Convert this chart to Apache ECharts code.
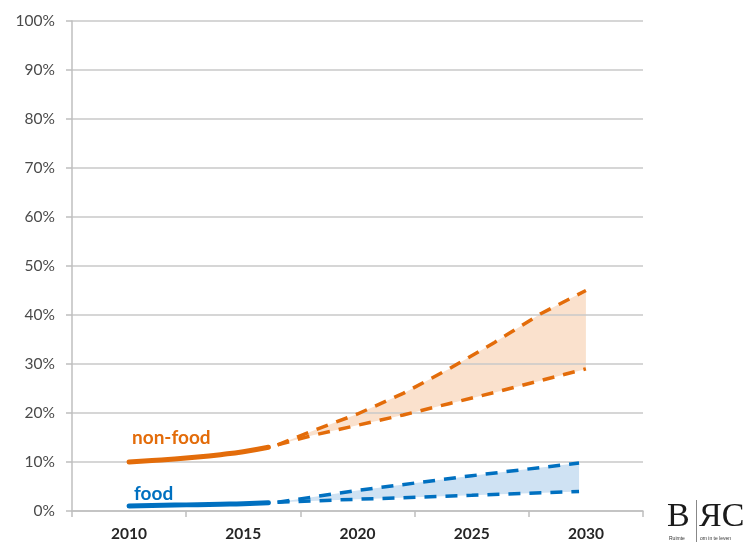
<!DOCTYPE html>
<html><head><meta charset="utf-8">
<script src="https://cdn.jsdelivr.net/npm/echarts@6/dist/echarts.min.js"></script>
<style>html,body{margin:0;padding:0;background:#fff}#c{width:753px;height:543px}</style>
</head><body><div id="c"></div>
<script>
var xCategories = ['2010', '2015', '2020', '2025', '2030'];
var yTicks = [0, 10, 20, 30, 40, 50, 60, 70, 80, 90, 100];

var histYears = [2010, 2011, 2012, 2013, 2014, 2015, 2016.1];
var nonFoodHist = [10, 10.3, 10.6, 11, 11.5, 12.1, 13];
var foodHist = [1.0, 1.1, 1.2, 1.3, 1.4, 1.5, 1.7];

var nfYears = [2016.5, 2018, 2020, 2022, 2024, 2026, 2028, 2030];
var nfHigh = [13.5, 16.3, 19.8, 24.0, 29.0, 34.4, 40.2, 45];
var nfLow = [13.5, 15.4, 17.5, 19.6, 21.9, 24.2, 26.6, 29];

var fYears = [2016.5, 2020, 2025, 2029.7];
var fHigh = [1.8, 4.2, 7.2, 9.8];
var fLow = [1.8, 2.4, 3.2, 4.0];

var ORANGE = '#e36c0a', BLUE = '#0070c0';
function pts(xs, ys) { return xs.map(function (x, i) { return [x, ys[i]]; }); }

function band(xs, hi, lo, color) {
  return {
    type: 'custom', xAxisIndex: 1, silent: true, z: -1,
    data: xs.map(function (x, i) { return [x, hi[i], lo[i]]; }),
    renderItem: function (params, api) {
      if (params.dataIndex !== 0) return null;
      var top = [], bot = [];
      for (var i = 0; i < xs.length; i++) {
        top.push(api.coord([xs[i], hi[i]]));
        bot.push(api.coord([xs[i], lo[i]]));
      }
      return { type: 'polygon', shape: { points: top.concat(bot.reverse()) }, style: { fill: color } };
    }
  };
}

var chart = echarts.init(document.getElementById('c'), null, { renderer: 'canvas' });
var dash = { type: [12, 9], width: 3.5 };
chart.setOption({
  animation: false,
  grid: { left: 72, right: 110, top: 21, bottom: 32 },
  xAxis: [{
    type: 'category', data: xCategories, boundaryGap: true,
    axisLine: { lineStyle: { color: '#bfbfbf', width: 1.5 } },
    axisTick: { show: true, length: 6, lineStyle: { color: '#bfbfbf', width: 1.5 } },
    axisLabel: { margin: 15, color: '#262626', fontWeight: 'bold', fontSize: 15.5, fontFamily: 'Lato' },
    splitLine: { show: false }
  }, {
    type: 'value', min: 2007.5, max: 2032.5, show: false
  }],
  yAxis: {
    type: 'value', min: 0, max: 100, interval: 10,
    axisLine: { show: true, lineStyle: { color: '#bfbfbf', width: 1.5 } },
    axisTick: { show: true, length: 6, lineStyle: { color: '#bfbfbf', width: 1.5 } },
    axisLabel: { margin: 17, color: '#4a4a4a', fontSize: 15.5, fontFamily: 'Lato', formatter: '{value}%' },
    splitLine: { lineStyle: { color: '#c8c8c8', width: 1.5 } }
  },
  series: [
    band(nfYears, nfHigh, nfLow, '#fae1cd'),
    band(fYears, fHigh, fLow, '#cfe2f3'),
    { type: 'line', xAxisIndex: 1, z: 3, data: pts(nfYears, nfHigh), symbol: 'none', lineStyle: Object.assign({ color: ORANGE }, dash) },
    { type: 'line', xAxisIndex: 1, z: 3, data: pts(nfYears, nfLow), symbol: 'none', lineStyle: Object.assign({ color: ORANGE }, dash) },
    { type: 'line', xAxisIndex: 1, z: 3, data: pts(fYears, fHigh), symbol: 'none', lineStyle: Object.assign({ color: BLUE }, dash) },
    { type: 'line', xAxisIndex: 1, z: 3, data: pts(fYears, fLow), symbol: 'none', lineStyle: Object.assign({ color: BLUE }, dash) },
    { type: 'line', xAxisIndex: 1, z: 3, data: pts(histYears, nonFoodHist), symbol: 'none', smooth: true, lineStyle: { color: ORANGE, width: 5, cap: 'round' } },
    { type: 'line', xAxisIndex: 1, z: 3, data: pts(histYears, foodHist), symbol: 'none', smooth: true, lineStyle: { color: BLUE, width: 5, cap: 'round' } }
  ],
  graphic: [
    { type: 'text', x: 132, y: 438, style: { text: 'non-food', fill: ORANGE, font: 'bold 19px Lato', textVerticalAlign: 'middle' } },
    { type: 'text', x: 134, y: 494, style: { text: 'food', fill: BLUE, font: 'bold 19px Lato', textVerticalAlign: 'middle' } },
    { type: 'text', left: 667, top: 500, style: { text: 'B', fill: '#1a1a1a', font: '34px "Liberation Serif"' } },
    { type: 'rect', shape: { x: 696, y: 500, width: 1, height: 42 }, style: { fill: '#888' } },
    { type: 'text', left: 699, top: 500, style: { text: 'ЯC', fill: '#1a1a1a', font: '34px "Liberation Serif"' } },
    { type: 'text', left: 669, top: 536, style: { text: 'Ruimte', fill: '#333', font: '5px "Liberation Sans"' } },
    { type: 'text', left: 700, top: 536, style: { text: 'om in te leven', fill: '#333', font: '5px "Liberation Sans"' } }
  ]
});
</script></body></html>
